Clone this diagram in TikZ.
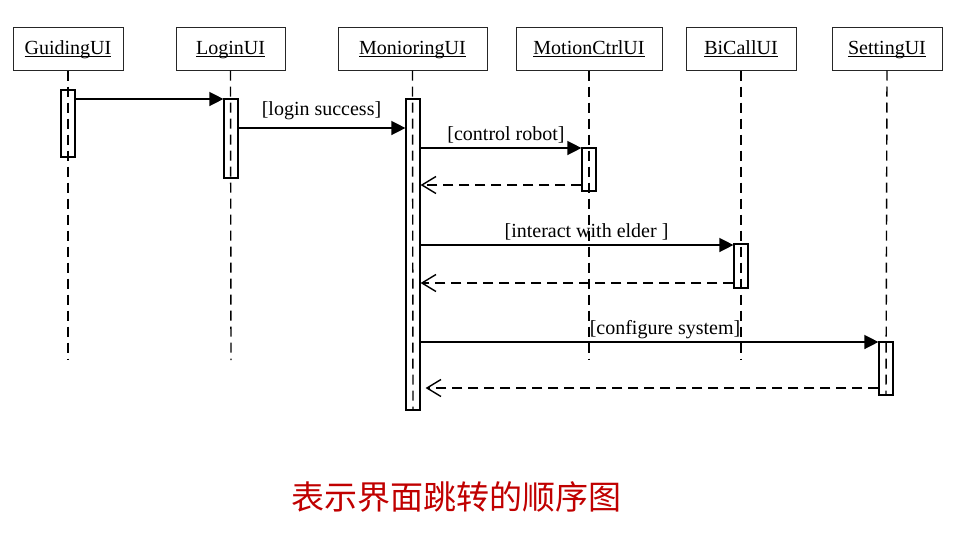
\documentclass[tikz,border=0pt]{standalone}
\usepackage{fontspec}
\setmainfont{Liberation Serif}
\newfontfamily\cjk{Noto Sans CJK SC}
\usetikzlibrary{arrows.meta}
\definecolor{titlered}{HTML}{C00000}
\newcommand\myul[1]{\setbox0\hbox{#1}\rlap{\rule[-2.5pt]{\wd0}{0.8pt}}\box0}
\begin{document}
\begin{tikzpicture}[x=1pt,y=-1pt,
 hdr/.style={draw=black!85, line width=1pt, minimum height=43pt, inner sep=0pt, text height=15pt, text depth=4pt, font=\fontsize{20}{24}\selectfont},
 act/.style={draw, line width=1.2pt, minimum width=14pt, inner sep=0pt},
 life/.style={line width=1.4pt, dash pattern=on 10pt off 6pt},
 msg/.style={line width=1.4pt, -{Triangle[length=14pt,width=14pt]}},
 ret/.style={line width=1.4pt, dash pattern=on 10pt off 6pt, -{Straight Barb[length=14pt,width=17pt]}},
 lbl/.style={font=\fontsize{20}{24}\selectfont, inner sep=0pt, anchor=base}
]
\useasboundingbox (0,0) rectangle (976,538);
% headers
\node[hdr, minimum width=110pt] (h1) at (68,48.5) {\myul{GuidingUI}};
\node[hdr, minimum width=109pt] (h2) at (230.5,48.5) {\myul{LoginUI}};
\node[hdr, minimum width=149pt] (h3) at (412.5,48.5) {\myul{MonioringUI}};
\node[hdr, minimum width=146pt] (h4) at (589,48.5) {\myul{MotionCtrlUI}};
\node[hdr, minimum width=110pt] (h5) at (741,48.5) {\myul{BiCallUI}};
\node[hdr, minimum width=110pt] (h6) at (887,48.5) {\myul{SettingUI}};
% lifeline ends
\coordinate (e1) at (68,360);
\coordinate (e2) at (231,360);
\coordinate (e3) at (413,410);
\coordinate (e4) at (589,360);
\coordinate (e5) at (741,360);
\coordinate (e6) at (886,395);
% activations
\node[act, minimum height=67pt] (a1) at (68,123.5) {};
\node[act, minimum height=79pt] (a2) at (231,138.5) {};
\node[act, minimum height=311pt] (a3) at (413,254.5) {};
\node[act, minimum height=43pt] (a4) at (589,169.5) {};
\node[act, minimum height=44pt] (a5) at (741,266) {};
\node[act, minimum height=53pt] (a6) at (886,368.5) {};
% lifelines
\draw[life] (h1.south) -- (e1);
\draw[life] (h2.south) -- (e2);
\draw[life] (h3.south) -- (e3);
\draw[life] (h4.south) -- (e4);
\draw[life] (h5.south) -- (e5);
\draw[life] (h6.south) -- (e6);
% messages
\draw[msg] (a1.east |- 0,99) -- (a2.west |- 0,99);
\draw[msg] (a2.east |- 0,128) -- (a3.west |- 0,128);
\node[lbl] (l1) at (321.5,115) {[login success]};
\draw[msg] (a3.east |- 0,148) -- (a4.west |- 0,148);
\node[lbl] (l2) at (506,140) {[control robot]};
\draw[ret] (a4.west |- 0,185) -- (a3.east |- 0,185);
\draw[msg] (a3.east |- 0,245) -- (a5.west |- 0,245);
\node[lbl] (l3) at (586.5,237) {[interact with elder ]};
\draw[ret] (a5.west |- 0,283) -- (a3.east |- 0,283);
\draw[msg] (a3.east |- 0,342) -- (a6.west |- 0,342);
\node[lbl] (l4) at (665,334) {[configure system]};
\draw[ret] (a6.west |- 0,388) -- ([xshift=5pt]a3.east |- 0,388);
% title
\node[font=\cjk\fontsize{33}{38}\selectfont, text=titlered, inner sep=0pt] (t) at (456,497) {表示界面跳转的顺序图};
\end{tikzpicture}
\end{document}
